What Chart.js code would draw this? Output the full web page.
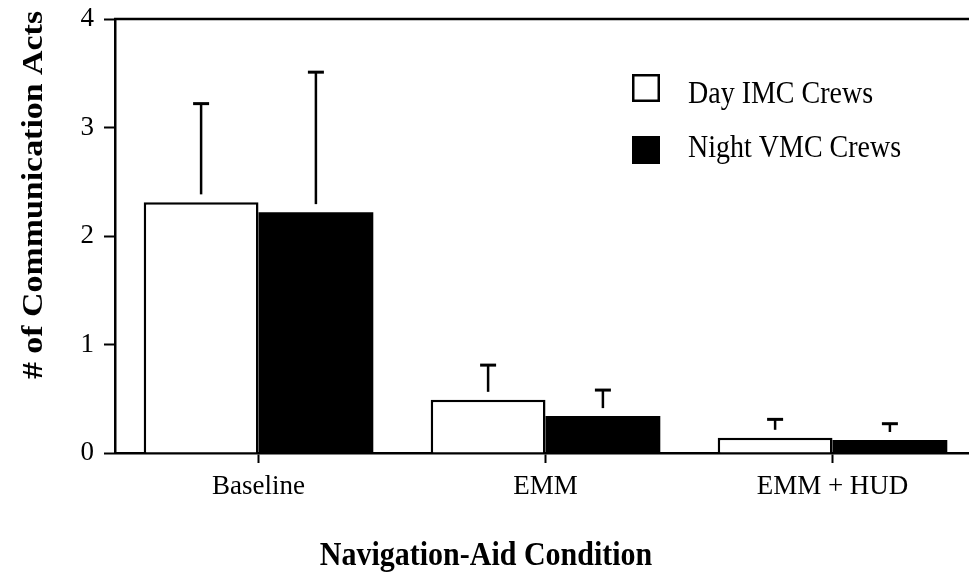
<!DOCTYPE html>
<html lang="en">
<head>
    <meta charset="UTF-8">
    <title>Communication Acts by Navigation-Aid Condition</title>
    <script src="https://cdn.jsdelivr.net/npm/chart.js"></script>
    <style>
        html, body {
            margin: 0;
            padding: 0;
            background: white;
            overflow: hidden;
        }
        .wrap {
            width: 985px;
            height: 574px;
            position: relative;
        }
    </style>
</head>
<body>
    <div class="wrap">
        <canvas id="commChart"></canvas>
    </div>
    <script>
        // data
        const categories = ['Baseline', 'EMM', 'EMM + HUD'];
        const seriesNames = ['Day IMC Crews', 'Night VMC Crews'];
        const dayMeans = [2.31, 0.49, 0.14];
        const dayErr = [0.91, 0.32, 0.17];
        const nightMeans = [2.22, 0.34, 0.12];
        const nightErr = [1.29, 0.24, 0.15];
        const yTicks = [0, 1, 2, 3, 4];

        const serif = "'Liberation Serif', 'Times New Roman', serif";
        Chart.defaults.font.family = serif;
        Chart.defaults.color = '#000';

        // error bars: stem starts a little above the bar, cap on top
        const errorBars = {
            id: 'errorBars',
            afterDatasetsDraw(chart) {
                const ctx = chart.ctx;
                const yScale = chart.scales.y;
                const errs = [dayErr, nightErr];
                ctx.save();
                ctx.strokeStyle = '#000';
                chart.data.datasets.forEach((ds, di) => {
                    const meta = chart.getDatasetMeta(di);
                    meta.data.forEach((bar, i) => {
                        const top = yScale.getPixelForValue(ds.data[i] + errs[di][i]);
                        const start = bar.y - 8;
                        ctx.lineWidth = 2.5;
                        ctx.beginPath();
                        ctx.moveTo(bar.x, start);
                        ctx.lineTo(bar.x, top);
                        ctx.stroke();
                        ctx.lineWidth = 3;
                        ctx.beginPath();
                        ctx.moveTo(bar.x - 8, top);
                        ctx.lineTo(bar.x + 8, top);
                        ctx.stroke();
                    });
                });
                ctx.restore();
            }
        };

        // top frame line, legend and axis titles
        const extras = {
            id: 'extras',
            afterDraw(chart) {
                const ctx = chart.ctx;
                const a = chart.chartArea;
                ctx.save();
                ctx.strokeStyle = '#000';
                ctx.lineWidth = 2.5;
                ctx.beginPath();
                ctx.moveTo(a.left - 1, a.top);
                ctx.lineTo(chart.width, a.top);
                ctx.stroke();

                // legend
                const boxes = [[632, 74], [632, 136]];
                ctx.font = '28px ' + serif;
                ctx.textBaseline = 'alphabetic';
                boxes.forEach((b, i) => {
                    if (i === 0) {
                        ctx.fillStyle = '#fff';
                        ctx.fillRect(b[0], b[1], 28, 28);
                        ctx.lineWidth = 2.5;
                        ctx.strokeRect(b[0] + 1.25, b[1] + 1.25, 25.5, 25.5);
                    } else {
                        ctx.fillStyle = '#000';
                        ctx.fillRect(b[0], b[1], 28, 28);
                    }
                    ctx.fillStyle = '#000';
                    ctx.save();
                    ctx.translate(688, i === 0 ? 103 : 157);
                    ctx.scale(1, 1.1);
                    ctx.fillText(seriesNames[i], 0, 0);
                    ctx.restore();
                });

                // axis titles
                ctx.font = 'bold 30px ' + serif;
                ctx.textAlign = 'center';
                ctx.save();
                ctx.translate(486, 565);
                ctx.scale(1, 1.15);
                ctx.fillText('Navigation-Aid Condition', 0, 0);
                ctx.restore();
                ctx.translate(42, 195);
                ctx.rotate(-Math.PI / 2);
                ctx.scale(1.13, 1);
                ctx.fillText('# of Communication Acts', 0, 0);
                ctx.restore();
            }
        };

        const ctx = document.getElementById('commChart').getContext('2d');
        const commChart = new Chart(ctx, {
            type: 'bar',
            data: {
                labels: categories,
                datasets: [{
                    label: seriesNames[0],
                    data: dayMeans,
                    backgroundColor: '#fff',
                    borderColor: '#000',
                    borderWidth: 2.5
                }, {
                    label: seriesNames[1],
                    data: nightMeans,
                    backgroundColor: '#000',
                    borderColor: '#000',
                    borderWidth: 0
                }]
            },
            options: {
                responsive: true,
                maintainAspectRatio: false,
                animation: false,
                layout: { padding: { top: 19, right: 9, left: 0, bottom: 0 } },
                datasets: { bar: { categoryPercentage: 0.8, barPercentage: 1.0 } },
                plugins: {
                    legend: { display: false },
                    tooltip: { enabled: false }
                },
                scales: {
                    x: {
                        afterFit(scale) {
                            scale.height = 121;
                            scale.paddingLeft = 0;
                            scale.paddingRight = 0;
                        },
                        grid: {
                            offset: false,
                            drawOnChartArea: false,
                            drawTicks: true,
                            tickLength: 10,
                            tickColor: '#000',
                            tickWidth: 2
                        },
                        border: { display: true, color: '#000', width: 2.5 },
                        ticks: { font: { size: 27 }, padding: 8, color: '#000' }
                    },
                    y: {
                        min: 0,
                        max: 4,
                        afterFit(scale) {
                            scale.width = 115;
                            scale.paddingTop = 0;
                            scale.paddingBottom = 0;
                        },
                        afterBuildTicks(scale) {
                            scale.ticks = yTicks.map(v => ({ value: v }));
                        },
                        grid: {
                            drawOnChartArea: false,
                            drawTicks: true,
                            tickLength: 11,
                            tickColor: '#000',
                            tickWidth: 2
                        },
                        border: { display: true, color: '#000', width: 2.5 },
                        ticks: { font: { size: 27 }, padding: 10, color: '#000' }
                    }
                }
            },
            plugins: [errorBars, extras]
        });
    </script>
</body>
</html>
